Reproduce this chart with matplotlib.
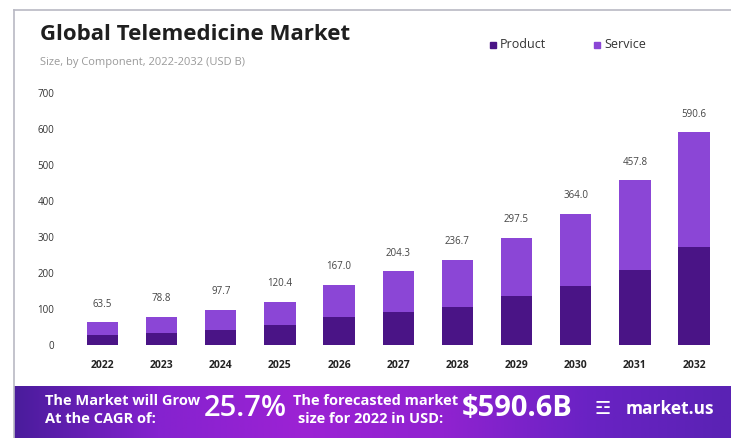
import matplotlib
matplotlib.use("Agg")
import matplotlib.pyplot as plt
import numpy as np
from matplotlib.colors import LinearSegmentedColormap

years = ["2022", "2023", "2024", "2025", "2026", "2027", "2028", "2029", "2030", "2031", "2032"]
totals = [63.5, 78.8, 97.7, 120.4, 167.0, 204.3, 236.7, 297.5, 364.0, 457.8, 590.6]
product = [27, 34, 43, 55, 79, 92, 106, 137, 164, 207, 271]
service = [t - p for t, p in zip(totals, product)]
yticks = [0, 100, 200, 300, 400, 500, 600, 700]

W, H = 731, 438
fig = plt.figure(figsize=(W / 100, H / 100), dpi=100)
fig.patch.set_facecolor("white")

def fx(px):
    return px / W

def fy(py):
    return 1 - py / H

C_PROD = "#4a1486"
C_SERV = "#8b46d6"

# frame lines
fig.add_artist(plt.Line2D([fx(14), fx(731)], [fy(10), fy(10)], color="#b9b9c4", lw=1.2))
fig.add_artist(plt.Line2D([fx(14), fx(14)], [fy(10), fy(438)], color="#b9b9c4", lw=1.2))

# main axes
ax = fig.add_axes([fx(67), fy(345), fx(729.5) - fx(67), fy(93) - fy(345)])
x = np.arange(len(years))
ax.bar(x, product, width=0.53, color=C_PROD, zorder=2)
ax.bar(x, service, bottom=product, width=0.53, color=C_SERV, zorder=2)
for xi, t in zip(x, totals):
    ax.annotate(f"{t:.1f}", (xi, t), xytext=(0, 9), textcoords="offset points",
                ha="center", va="bottom", fontsize=7, color="#444444", family="Open Sans")
ax.set_xlim(-0.6, len(years) - 0.4)
ax.set_ylim(0, 700)
ax.set_yticks(yticks)
ax.set_yticklabels([str(v) for v in yticks], fontsize=7, color="#333333", family="Open Sans")
ax.set_xticks(x)
ax.set_xticklabels(years, fontsize=7.5, color="#222222", family="Open Sans", fontweight="bold")
ax.tick_params(axis="both", length=0)
ax.tick_params(axis="y", pad=9)
ax.tick_params(axis="x", pad=11)
for s in ax.spines.values():
    s.set_visible(False)
ax.set_facecolor("white")

# title & subtitle
fig.text(fx(40), fy(35), "Global Telemedicine Market", fontsize=16, fontweight="bold",
         color="#1f1f1f", family="Open Sans", va="center", ha="left")
fig.text(fx(40), fy(63), "Size, by Component, 2022-2032 (USD B)", fontsize=8,
         color="#9a9a9a", family="Open Sans", va="center", ha="left")

# legend
for lx, lab, col in [(493, "Product", C_PROD), (597, "Service", C_SERV)]:
    fig.add_artist(plt.Rectangle((fx(lx - 3), fy(48)), fx(6), 6 / H, color=col,
                                 transform=fig.transFigure))
    fig.text(fx(lx + 7), fy(45), lab, fontsize=9, color="#333333", family="Open Sans",
             va="center", ha="left")

# banner with gradient
bax = fig.add_axes([fx(14), 0, 1 - fx(14), fy(386)])
cmap = LinearSegmentedColormap.from_list("ban", ["#4a1c9c", "#8522cf", "#9c22d4", "#9022d0", "#6a22c4", "#5a22b4"])
grad = np.linspace(0, 1, 256).reshape(1, -1)
bax.imshow(grad, aspect="auto", cmap=cmap, extent=[0, 1, 0, 1])
bax.set_axis_off()

fig.text(fx(45), fy(401), "The Market will Grow", fontsize=10.5, fontweight="bold",
         color="white", family="Open Sans", va="center", ha="left")
fig.text(fx(45), fy(419), "At the CAGR of:", fontsize=10.5, fontweight="bold",
         color="white", family="Open Sans", va="center", ha="left")
fig.text(fx(204), fy(409), "25.7%", fontsize=21, fontweight="semibold", color="white",
         family="Open Sans", va="center", ha="left")
fig.text(fx(293), fy(401), "The forecasted market", fontsize=10.5, fontweight="bold",
         color="white", family="Open Sans", va="center", ha="left")
fig.text(fx(298), fy(419), "size for 2022 in USD:", fontsize=10.5, fontweight="bold",
         color="white", family="Open Sans", va="center", ha="left")
fig.text(fx(462), fy(409), "$590.6B", fontsize=21, fontweight="bold", color="white",
         family="Open Sans", va="center", ha="left")
fig.text(fx(594), fy(409), "\u2632", fontsize=13, color="white", family="DejaVu Sans",
         va="center", ha="left")
fig.text(fx(626), fy(409), "market.us", fontsize=12.5, fontweight="bold", color="white",
         family="Open Sans", va="center", ha="left")

fig.savefig("out.png", dpi=100)
